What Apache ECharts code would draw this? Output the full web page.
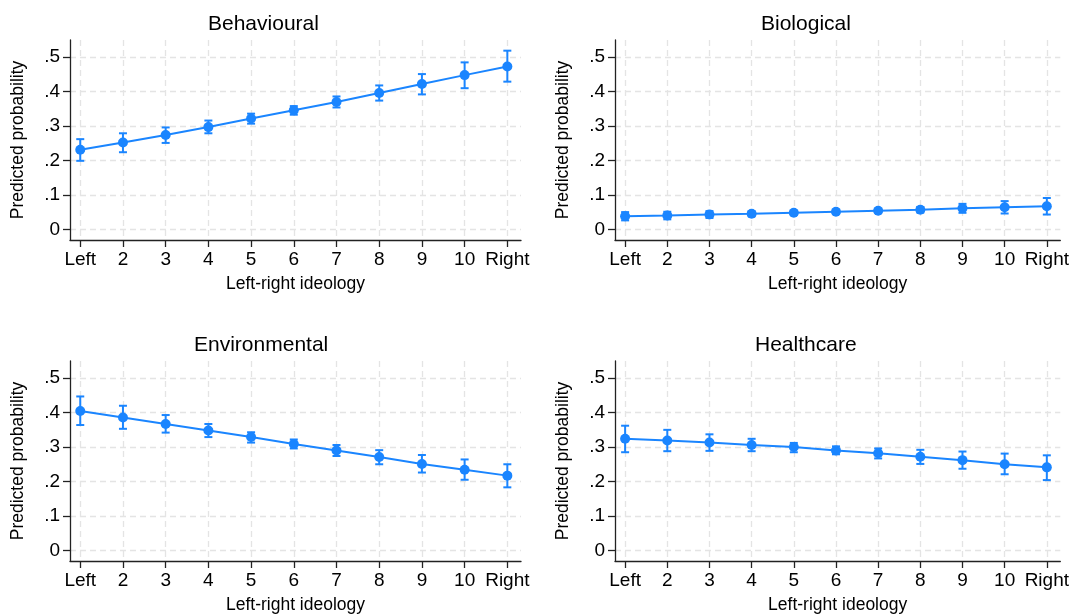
<!DOCTYPE html>
<html lang="en">
<head>
    <meta charset="utf-8">
    <title>Predicted probability by left-right ideology</title>
    <script src="https://cdn.jsdelivr.net/npm/echarts@6/dist/echarts.min.js"></script>
</head>
<body style="margin:0;background:#fff;">
<div id="main" style="width:1072px;height:615px;"></div>

<script type="text/javascript">

    // x positions and their tick labels
    var ideologyPos = [1, 2, 3, 4, 5, 6, 7, 8, 9, 10, 11];
    var ideologyLabels = ['Left', '2', '3', '4', '5', '6', '7', '8', '9', '10', 'Right'];
    var yTicks = [0, 0.1, 0.2, 0.3, 0.4, 0.5];

    // Behavioural
    var behaviouralEst = [0.231, 0.252, 0.274, 0.297, 0.322, 0.346, 0.370, 0.396, 0.422, 0.448, 0.473];
    var behaviouralLo  = [0.199, 0.224, 0.251, 0.279, 0.307, 0.333, 0.354, 0.374, 0.392, 0.410, 0.429];
    var behaviouralHi  = [0.262, 0.279, 0.296, 0.316, 0.336, 0.358, 0.386, 0.418, 0.451, 0.485, 0.519];

    // Biological
    var biologicalEst = [0.038, 0.040, 0.043, 0.045, 0.048, 0.051, 0.054, 0.057, 0.061, 0.064, 0.067];
    var biologicalLo  = [0.026, 0.029, 0.033, 0.038, 0.042, 0.045, 0.048, 0.049, 0.048, 0.046, 0.043];
    var biologicalHi  = [0.050, 0.051, 0.053, 0.052, 0.054, 0.057, 0.060, 0.065, 0.074, 0.082, 0.091];

    // Environmental
    var environmentalEst = [0.405, 0.386, 0.367, 0.348, 0.329, 0.309, 0.290, 0.271, 0.251, 0.234, 0.217];
    var environmentalLo  = [0.364, 0.353, 0.342, 0.329, 0.313, 0.296, 0.274, 0.250, 0.226, 0.205, 0.183];
    var environmentalHi  = [0.447, 0.420, 0.393, 0.367, 0.343, 0.322, 0.306, 0.291, 0.277, 0.264, 0.250];

    // Healthcare
    var healthcareEst = [0.324, 0.319, 0.313, 0.306, 0.300, 0.290, 0.282, 0.272, 0.262, 0.250, 0.241];
    var healthcareLo  = [0.285, 0.288, 0.289, 0.288, 0.285, 0.279, 0.267, 0.251, 0.237, 0.221, 0.204];
    var healthcareHi  = [0.362, 0.350, 0.337, 0.324, 0.312, 0.302, 0.296, 0.292, 0.287, 0.281, 0.276];

    var panelTitles = ['Behavioural', 'Biological', 'Environmental', 'Healthcare'];
    var panelEst = [behaviouralEst, biologicalEst, environmentalEst, healthcareEst];
    var panelLo = [behaviouralLo, biologicalLo, environmentalLo, healthcareLo];
    var panelHi = [behaviouralHi, biologicalHi, environmentalHi, healthcareHi];

    var blue = '#1a85ff';
    var font = '"Liberation Sans", Arial, Helvetica, sans-serif';

    // grid boxes and title spots for each panel
    var grids = [
        {left: 70, top: 40, width: 451, height: 200},
        {left: 615, top: 40, width: 450, height: 200},
        {left: 70, top: 361, width: 451, height: 200},
        {left: 615, top: 361, width: 450, height: 200}
    ];
    var titleSpots = [
        {left: 208, top: 14},
        {left: 761, top: 14},
        {left: 194, top: 335},
        {left: 755, top: 335}
    ];

    var gridLine = {show: true, lineStyle: {color: '#e4e4e4', width: 1.3, type: [6, 4]}};

    var titles = [], xAxes = [], yAxes = [], series = [];

    for (var i = 0; i < 4; i++) {
        titles.push({
            text: panelTitles[i],
            left: titleSpots[i].left,
            top: titleSpots[i].top,
            padding: 0,
            textStyle: {fontFamily: font, fontSize: 21, fontWeight: 'normal', color: '#000'}
        });

        xAxes.push({
            type: 'value',
            gridIndex: i,
            min: 0.76,
            max: 11.32,
            name: 'Left-right ideology',
            nameLocation: 'middle',
            nameGap: 35,
            nameTextStyle: {fontFamily: font, fontSize: 17.5, color: '#000'},
            axisLine: {show: true, onZero: false, lineStyle: {color: '#222', width: 1.3}},
            axisTick: {show: true, length: 7, customValues: ideologyPos, lineStyle: {color: '#222', width: 1.3}},
            axisLabel: {
                fontFamily: font, fontSize: 19, color: '#000', margin: 10,
                customValues: ideologyPos,
                formatter: function (v) { return ideologyLabels[Math.round(v) - 1]; }
            },
            splitLine: gridLine
        });

        yAxes.push({
            type: 'value',
            gridIndex: i,
            min: -0.031,
            max: 0.55,
            name: 'Predicted probability',
            nameLocation: 'middle',
            nameRotate: 90,
            nameGap: 43,
            nameTextStyle: {fontFamily: font, fontSize: 17.5, color: '#000'},
            axisLine: {show: true, onZero: false, lineStyle: {color: '#222', width: 1.3}},
            axisTick: {show: true, length: 7, customValues: yTicks, lineStyle: {color: '#222', width: 1.3}},
            axisLabel: {
                fontFamily: font, fontSize: 19, color: '#000', margin: 10,
                customValues: yTicks,
                formatter: function (v) { return v === 0 ? '0' : String(+v.toFixed(1)).replace(/^0/, ''); }
            },
            splitLine: gridLine
        });

        // confidence intervals as capped bars
        var ciData = [];
        var ptData = [];
        for (var k = 0; k < ideologyPos.length; k++) {
            ciData.push([ideologyPos[k], panelLo[i][k], panelHi[i][k]]);
            ptData.push([ideologyPos[k], panelEst[i][k]]);
        }

        series.push({
            type: 'custom',
            xAxisIndex: i,
            yAxisIndex: i,
            data: ciData,
            encode: {x: 0, y: [1, 2]},
            z: 2,
            renderItem: function (params, api) {
                var x = api.value(0);
                var lo = api.coord([x, api.value(1)]);
                var hi = api.coord([x, api.value(2)]);
                var w = 4;
                var st = {stroke: blue, lineWidth: 2};
                return {
                    type: 'group',
                    children: [
                        {type: 'line', shape: {x1: lo[0], y1: lo[1], x2: hi[0], y2: hi[1]}, style: st},
                        {type: 'line', shape: {x1: lo[0] - w, y1: lo[1], x2: lo[0] + w, y2: lo[1]}, style: st},
                        {type: 'line', shape: {x1: hi[0] - w, y1: hi[1], x2: hi[0] + w, y2: hi[1]}, style: st}
                    ]
                };
            }
        });

        series.push({
            type: 'line',
            xAxisIndex: i,
            yAxisIndex: i,
            data: ptData,
            z: 3,
            symbol: 'circle',
            symbolSize: 10,
            showSymbol: true,
            itemStyle: {color: blue},
            lineStyle: {color: blue, width: 2},
            emphasis: {disabled: true}
        });
    }

    var myChart = echarts.init(document.getElementById('main'));
    myChart.setOption({
        backgroundColor: '#fff',
        animation: false,
        title: titles,
        grid: grids,
        xAxis: xAxes,
        yAxis: yAxes,
        series: series
    });

</script>
</body>
</html>
